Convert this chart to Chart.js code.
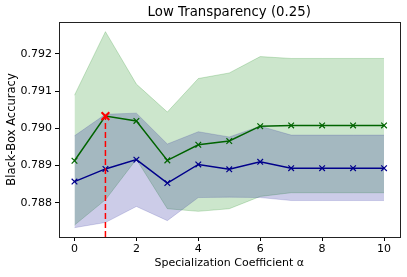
<!DOCTYPE html>
<html lang="en">
<head>
<meta charset="UTF-8">
<title>Low Transparency (0.25)</title>
<script src="https://cdn.jsdelivr.net/npm/chart.js"></script>
<style>
  html, body { margin: 0; padding: 0; background: #fff; }
  #wrap { width: 407px; height: 277px; }
</style>
</head>
<body>
<div id="wrap"><canvas id="chart" width="407" height="277"></canvas></div>
<script>
// values
const alphas = [0, 1, 2, 3, 4, 5, 6, 7, 8, 9, 10];
const greenMean  = [0.78913, 0.79033, 0.79020, 0.78914, 0.78956, 0.78966, 0.79006, 0.79008, 0.79008, 0.79008, 0.79008];
const greenUpper = [0.79089, 0.79260, 0.79119, 0.79044, 0.79134, 0.79149, 0.79193, 0.79188, 0.79188, 0.79188, 0.79188];
const greenLower = [0.78740, 0.78808, 0.78917, 0.78784, 0.78777, 0.78784, 0.78817, 0.78827, 0.78827, 0.78827, 0.78827];
const blueMean   = [0.78857, 0.78891, 0.78916, 0.78853, 0.78903, 0.78890, 0.78910, 0.78893, 0.78893, 0.78893, 0.78893];
const blueUpper  = [0.78980, 0.79038, 0.79041, 0.78958, 0.78991, 0.78977, 0.79006, 0.78982, 0.78982, 0.78982, 0.78982];
const blueLower  = [0.78733, 0.78747, 0.78790, 0.78752, 0.78814, 0.78815, 0.78814, 0.78806, 0.78806, 0.78806, 0.78806];
const bestAlpha = 1;
const xTicks = [0, 2, 4, 6, 8, 10];
const yTicks = [0.788, 0.789, 0.790, 0.791, 0.792];
const xRange = [-0.5, 10.5];
const yRange = [0.78708, 0.79286];

const pts = arr => alphas.map((a, i) => ({ x: a, y: arr[i] }));
const bestAcc = greenMean[alphas.indexOf(bestAlpha)];

const font = { family: 'DejaVu Sans', size: 11 };

// frame + title centred over the plot area, like matplotlib
const framePlugin = {
  id: 'frame',
  afterDraw(chart) {
    const { ctx, chartArea: a } = chart;
    ctx.save();
    ctx.strokeStyle = '#222';
    ctx.lineWidth = 1;
    ctx.strokeRect(Math.round(a.left) + 0.5, Math.round(a.top) + 0.5,
      Math.round(a.right - a.left), Math.round(a.bottom - a.top));
    ctx.fillStyle = '#000';
    ctx.font = '13.3px "DejaVu Sans"';
    ctx.textAlign = 'center';
    ctx.textBaseline = 'middle';
    ctx.fillText('Low Transparency (0.25)', (a.left + a.right) / 2, 12.5);
    ctx.restore();
  }
};

new Chart(document.getElementById('chart'), {
  type: 'line',
  data: {
    datasets: [
      { data: pts(greenUpper), fill: 1, order: 4, backgroundColor: 'rgba(0,128,0,0.2)',
        borderColor: 'rgba(0,128,0,0.2)', borderWidth: 1, pointRadius: 0, tension: 0 },
      { data: pts(greenLower), fill: false, order: 4,
        borderColor: 'rgba(0,128,0,0.2)', borderWidth: 1, pointRadius: 0, tension: 0 },
      { data: pts(blueUpper), fill: 3, order: 3, backgroundColor: 'rgba(0,0,139,0.2)',
        borderColor: 'rgba(0,0,139,0.15)', borderWidth: 1, pointRadius: 0, tension: 0 },
      { data: pts(blueLower), fill: false, order: 3,
        borderColor: 'rgba(0,0,139,0.15)', borderWidth: 1, pointRadius: 0, tension: 0 },
      { data: pts(greenMean), order: 2, borderColor: '#006400', borderWidth: 1.5,
        pointStyle: 'crossRot', pointRadius: 4, pointBorderColor: '#006400', pointBorderWidth: 1.2, tension: 0 },
      { data: pts(blueMean), order: 1, borderColor: '#00008b', borderWidth: 1.5,
        pointStyle: 'crossRot', pointRadius: 4, pointBorderColor: '#00008b', pointBorderWidth: 1.2, tension: 0 },
      { data: [{ x: bestAlpha, y: yRange[0] }, { x: bestAlpha, y: bestAcc }], order: 0,
        borderColor: '#ff0000', borderWidth: 1.5, borderDash: [6, 3], pointRadius: 0 },
      { data: [{ x: bestAlpha, y: bestAcc }], order: 0, showLine: false,
        pointStyle: 'crossRot', pointRadius: 5.5, pointBorderColor: '#ff0000', pointBorderWidth: 2 }
    ]
  },
  options: {
    responsive: false,
    animation: false,
    layout: { padding: { top: 22, right: 7, left: 0, bottom: 0 } },
    plugins: { legend: { display: false }, tooltip: { enabled: false } },
    scales: {
      x: {
        type: 'linear', min: xRange[0], max: xRange[1],
        afterBuildTicks: s => { s.ticks = xTicks.map(v => ({ value: v })); },
        afterFit: s => { s.height = 40; },
        grid: { drawOnChartArea: false, drawTicks: true, tickLength: 4, color: '#000' },
        border: { display: false },
        ticks: { color: '#000', font, padding: 2, maxRotation: 0, callback: v => String(v) },
        title: { display: true, text: 'Specialization Coefficient α', color: '#000', font,
          padding: { top: 0, bottom: 7 } }
      },
      y: {
        min: yRange[0], max: yRange[1],
        afterBuildTicks: s => { s.ticks = yTicks.map(v => ({ value: v })); },
        afterFit: s => { s.width = 59; },
        grid: { drawOnChartArea: false, drawTicks: true, tickLength: 4, color: '#000' },
        border: { display: false },
        ticks: { color: '#000', font, padding: 3, callback: v => v.toFixed(3) },
        title: { display: true, text: 'Black-Box Accuracy', color: '#000',
          font: { family: 'DejaVu Sans', size: 11.5 }, padding: { top: 5, bottom: 0 } }
      }
    }
  },
  plugins: [framePlugin]
});
</script>
</body>
</html>
